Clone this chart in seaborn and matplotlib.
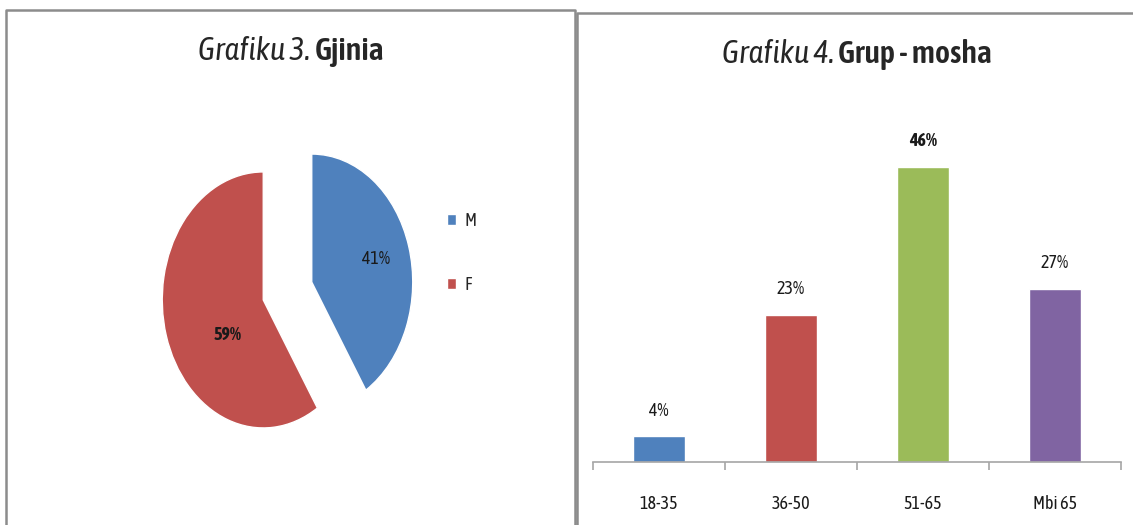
import matplotlib
matplotlib.use("Agg")
import matplotlib.pyplot as plt
from matplotlib.lines import Line2D
import seaborn as sns

# data
gender_labels = ["M", "F"]
gender_pct = [41, 59]
age_groups = ["18-35", "36-50", "51-65", "Mbi 65"]
age_pct = [4, 23, 46, 27]

pie_colors = ["#4F81BD", "#C0504D"]
bar_colors = ["#4F81BD", "#C0504D", "#9BBB59", "#8064A2"]

sns.set_style("white")
plt.rcParams["font.family"] = ["Asap Condensed", "DejaVu Sans"]

W, H = 1133, 525
fig = plt.figure(figsize=(W / 100, H / 100), dpi=100)


def px(x, y):
    # pixel position (from top-left) -> figure fraction
    return x / W, 1 - y / H


# panel borders
border = dict(color="#8C8C8C", lw=1.8, transform=fig.transFigure)
for xs, ys in [([6, 6, 575, 575], [525, 10, 10, 525]),
               ([577, 577, 1133], [525, 13, 13])]:
    fig.add_artist(Line2D([x / W for x in xs], [1 - y / H for y in ys], **border))

# ---- pie (Grafiku 3) ----
ax1 = fig.add_axes([136 / W, 1 - 483 / H, 303 / W, 384 / H])
wedges, texts, autotexts = ax1.pie(
    gender_pct, colors=pie_colors, startangle=90, counterclock=False,
    explode=[0.25, 0.25], autopct=lambda p: f"{p:.0f}%", pctdistance=0.66,
    textprops=dict(fontsize=13, color="#1a1a1a"))
ax1.set_aspect("auto")
ax1.set_xlim(-1.5, 1.5)
ax1.set_ylim(-1.5, 1.5)
autotexts[1].set_position((-0.59, -0.34))
autotexts[1].set_fontweight("bold")

ax1.legend(wedges, gender_labels, loc="upper left", bbox_to_anchor=px(447, 212),
           bbox_transform=fig.transFigure, frameon=False, fontsize=13,
           handlelength=0.5, handleheight=0.55, handletextpad=0.45,
           labelspacing=2.55, borderpad=0, borderaxespad=0)

# ---- bars (Grafiku 4) ----
ax2 = fig.add_axes([593 / W, 1 - 462 / H, 528 / W, 320.5 / H])
sns.barplot(x=age_groups, y=age_pct, hue=age_groups, palette=bar_colors,
            legend=False, width=0.4, saturation=1, ax=ax2)
ax2.set_xlim(-0.5, 3.5)
ax2.set_ylim(0, 50)
ax2.set_yticks([])
ax2.set_xlabel("")
ax2.set_ylabel("")
for s in ["top", "right", "left"]:
    ax2.spines[s].set_visible(False)
ax2.spines["bottom"].set_color("#A6A6A6")
ax2.spines["bottom"].set_linewidth(1.2)
ax2.set_xticks([i - 0.5 for i in range(len(age_groups) + 1)], minor=True)
ax2.tick_params(axis="x", which="minor", bottom=True, direction="out",
                length=6, width=1.2, color="#A6A6A6")
ax2.tick_params(axis="x", which="major", length=0, pad=24, labelsize=13,
                labelcolor="#1a1a1a")
for cont in ax2.containers:
    labels = ax2.bar_label(cont, fmt="%d%%", padding=12, fontsize=13, color="#1a1a1a")
    for t in labels:
        if t.get_text() == f"{max(age_pct)}%":
            t.set_fontweight("bold")


# ---- titles: italic part + bold part, centred as a whole ----
def title(cx, y, italic, bold, size=23):
    t1 = fig.text(0, 0, italic, fontsize=size, style="italic", va="baseline")
    t2 = fig.text(0, 0, bold, fontsize=size, weight="semibold", va="baseline")
    fig.canvas.draw()
    r = fig.canvas.get_renderer()
    w1 = t1.get_window_extent(r).width
    w2 = t2.get_window_extent(r).width
    x0 = cx - (w1 + w2) / 2
    t1.set_position(px(x0, y))
    t2.set_position(px(x0 + w1, y))


title(291, 60, "Grafiku 3. ", "Gjinia")
title(857, 63, "Grafiku 4. ", "Grup - mosha")

fig.savefig("out.png", dpi=100, facecolor="white")
